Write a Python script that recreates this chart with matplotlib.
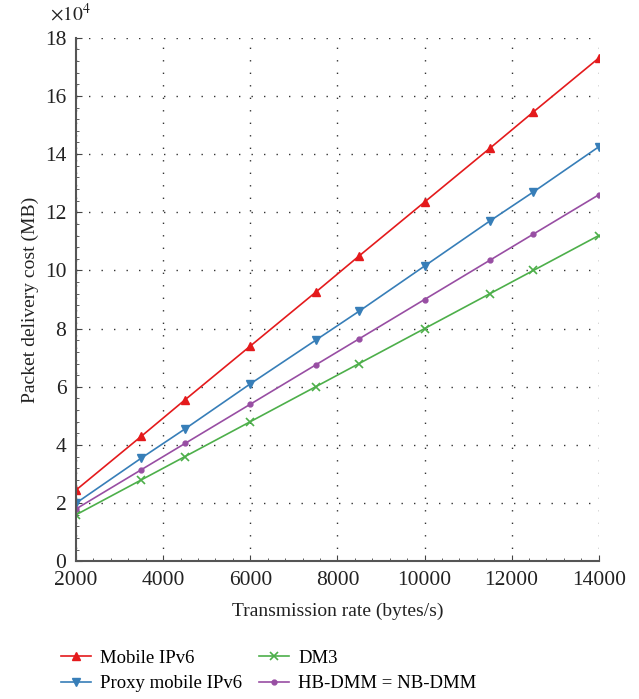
import matplotlib
matplotlib.use("Agg")
import matplotlib.pyplot as plt
from matplotlib.ticker import AutoMinorLocator

plt.rcParams['font.family'] = ['Liberation Serif', 'DejaVu Serif']
plt.rcParams['mathtext.fontset'] = 'stix'

# Transmission rate (bytes/s)
rate = [2000, 3500, 4500, 6000, 7500, 8500, 10000, 11500, 12500, 14000]

# Packet delivery cost (x10^4 MB)
mipv6 = [2.45, 4.3, 5.55, 7.4, 9.25, 10.5, 12.35, 14.2, 15.45, 17.3]
pmipv6 = [2.0, 3.55, 4.55, 6.1, 7.6, 8.6, 10.15, 11.7, 12.7, 14.25]
dm3 = [1.6, 2.8, 3.6, 4.8, 6.0, 6.8, 8.0, 9.2, 10.0, 11.2]
hbdmm = [1.8, 3.15, 4.05, 5.4, 6.75, 7.65, 9.0, 10.35, 11.25, 12.6]

fig = plt.figure(figsize=(6.39, 6.99), dpi=100)
ax = fig.add_axes([0.119, 0.197, 0.818, 0.749])

ax.plot(rate, mipv6, '-^', color='#e41a1c', lw=1.2, ms=6, label='Mobile IPv6')
ax.plot(rate, pmipv6, '-v', color='#377eb8', lw=1.2, ms=6, label='Proxy mobile IPv6')
ax.plot(rate, dm3, '-x', color='#4daf4a', lw=1.2, ms=6, mew=1.2, label='DM3')
ax.plot(rate, hbdmm, '-o', color='#984ea3', lw=1.2, ms=3.5, label='HB-DMM = NB-DMM')

ax.set_xlim(2000, 14000)
ax.set_ylim(0, 18)
ax.set_xticks(range(2000, 14001, 2000))
ax.set_yticks(range(0, 19, 2))
ax.xaxis.set_minor_locator(AutoMinorLocator(5))
ax.yaxis.set_minor_locator(AutoMinorLocator(5))
ax.tick_params(which='both', direction='in', colors='#444444', labelcolor='#222222',
               labelsize=15.5)
ax.tick_params(which='major', length=4, pad=7)
ax.tick_params(which='minor', length=2)
for s in ['top', 'right']:
    ax.spines[s].set_visible(False)
for s in ['left', 'bottom']:
    ax.spines[s].set_color('#555555')
    ax.spines[s].set_linewidth(1.5)

ax.grid(True, which='major', linestyle=(0, (1, 8)), color='#333333', lw=1.0)

ax.text(-0.01, 1.025, r'$\times 10^4$', transform=ax.transAxes, fontsize=14,
        color='#222222', ha='center', va='bottom')

ax.set_xlabel('Transmission rate (bytes/s)', fontsize=14, color='#222222', labelpad=9)
ax.set_ylabel('Packet delivery cost (MB)', fontsize=14, color='#222222', labelpad=4)

fig.legend(*ax.get_legend_handles_labels(), loc='upper left',
           bbox_to_anchor=(44 / 639, 0.095), ncol=2, frameon=False,
           fontsize=13.5, columnspacing=0.9, handlelength=1.6, handletextpad=0.5,
           labelspacing=0.45)

fig.savefig('out.png', dpi=100)
